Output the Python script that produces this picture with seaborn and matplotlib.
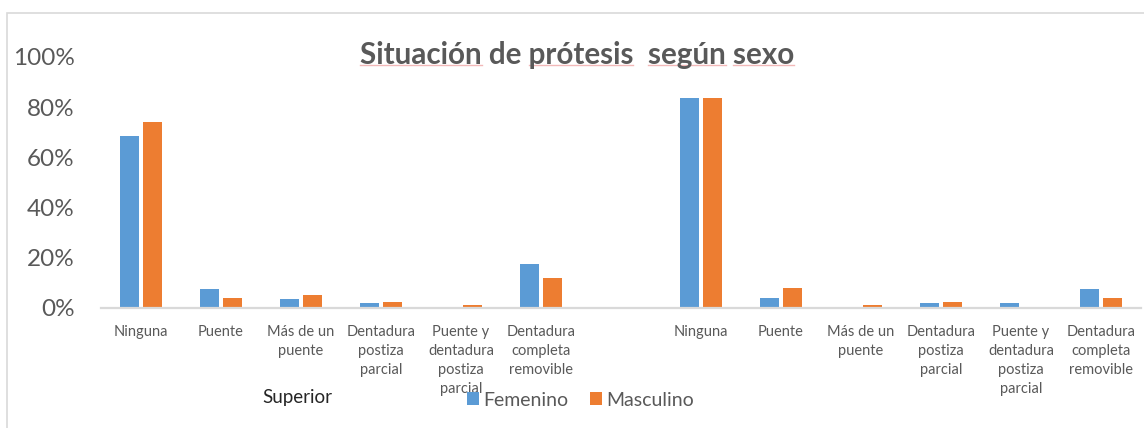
import matplotlib
matplotlib.use("Agg")
import matplotlib.pyplot as plt
from matplotlib.ticker import PercentFormatter
from matplotlib.patches import Rectangle
from matplotlib.lines import Line2D
import seaborn as sns
import pandas as pd

# ---- data ----
categorias = ["Ninguna", "Puente", "Más de un puente", "Dentadura postiza parcial",
              "Puente y dentadura postiza parcial", "Dentadura completa removible"]
etiquetas = ["Ninguna", "Puente", "Más de un\npuente", "Dentadura\npostiza\nparcial",
             "Puente y\ndentadura\npostiza\nparcial", "Dentadura\ncompleta\nremovible"]
grupos = ["Superior", "Inferior"]
sexos = ["Femenino", "Masculino"]
fem_superior = [68.4, 7.6, 3.7, 1.9, 0.0, 17.4]
mas_superior = [74.3, 4.0, 5.2, 2.5, 1.2, 11.8]
fem_inferior = [83.8, 3.9, 0.0, 1.9, 1.9, 7.6]
mas_inferior = [83.5, 7.8, 1.2, 2.5, 0.0, 3.9]
titulo = "Situación de prótesis  según sexo"

# ---- build table ----
rows = []
for g, fvals, mvals in [("Superior", fem_superior, mas_superior),
                        ("Inferior", fem_inferior, mas_inferior)]:
    for c, f, m in zip(categorias, fvals, mvals):
        rows.append({"slot": f"{g}|{c}", "sexo": "Femenino", "valor": f})
        rows.append({"slot": f"{g}|{c}", "sexo": "Masculino", "valor": m})
df = pd.DataFrame(rows)
orden = [f"Superior|{c}" for c in categorias] + ["gap"] + [f"Inferior|{c}" for c in categorias]
tick_labels = etiquetas + [""] + etiquetas

FONT = "Lato"
GRAY = "#595959"
W, H = 1144, 428
fig = plt.figure(figsize=(W / 100, H / 100), dpi=100)
fig.patch.set_facecolor("white")
ax = fig.add_axes([101 / W, 1 - 308 / H, 1040 / W, (308 - 57) / H])

sns.barplot(data=df, x="slot", y="valor", hue="sexo", order=orden, hue_order=sexos,
            palette=["#5B9BD5", "#ED7D31"], saturation=1, width=0.575, gap=0.217,
            linewidth=0, errorbar=None, ax=ax)

ax.set_xlim(-0.5, len(orden) - 0.5)
ax.set_ylim(0, 100)
ax.set_yticks([0, 20, 40, 60, 80, 100])
ax.yaxis.set_major_formatter(PercentFormatter(100, decimals=0))
ax.set_xticks(range(len(orden)))
ax.set_xticklabels(tick_labels, fontsize=10.5, color=GRAY, family=FONT, linespacing=1.45,
                   va="top")
for lab in ax.get_yticklabels():
    lab.set_fontsize(17.5)
    lab.set_color(GRAY)
    lab.set_family(FONT)
ax.tick_params(axis="y", length=0, pad=19)
ax.tick_params(axis="x", length=0, pad=12)
ax.set_xlabel("")
ax.set_ylabel("")
for s in ["top", "right", "left"]:
    ax.spines[s].set_visible(False)
ax.spines["bottom"].set_color("#d9d9d9")
ax.spines["bottom"].set_linewidth(1.6)
ax.set_facecolor("white")

# title
title_kw = dict(fontsize=21.3, fontweight="bold", color=GRAY, family=FONT)
tx = fig.text(577 / W, 1 - 55 / H, titulo, ha="center", va="center", **title_kw)

# faint spell-check underlines under the title words (as in the reference)
fig.canvas.draw()
rend = fig.canvas.get_renderer()
full = tx.get_window_extent(rend)
def prefix_width(s):
    t = fig.text(0, 0, s, **title_kw)
    w = t.get_window_extent(rend).width if s else 0.0
    t.remove()
    return w
for word in ["Situación", "prótesis", "según", "sexo"]:
    i = titulo.index(word)
    x0 = full.x0 + prefix_width(titulo[:i])
    x1 = full.x0 + prefix_width(titulo[:i + len(word)])
    y = (H - 65) / H
    fig.add_artist(Line2D([x0 / W, x1 / W], [y, y], transform=fig.transFigure,
                          color="#f2b8b8", linewidth=1.0))

# group label
fig.text(297 / W, 1 - 397 / H, "Superior", ha="center", va="center", fontsize=13.5,
         color="#262626", family=FONT)

# legend
sns.move_legend(ax, loc="center left", bbox_to_anchor=(467 / W, 1 - 400 / H),
                bbox_transform=fig.transFigure, ncol=2, frameon=False, title=None,
                borderpad=0, borderaxespad=0, handlelength=0.6, handleheight=0.65,
                handletextpad=0.25, columnspacing=1.1,
                prop={"family": FONT, "size": 14})
for t in ax.get_legend().get_texts():
    t.set_color(GRAY)

# chart border
fig.patches.append(Rectangle((7 / W, -0.1), 1.2, 1 - 13 / H + 0.1, transform=fig.transFigure,
                             fill=False, edgecolor="#d9d9d9", linewidth=1.2))

fig.savefig("out.png", dpi=100)
